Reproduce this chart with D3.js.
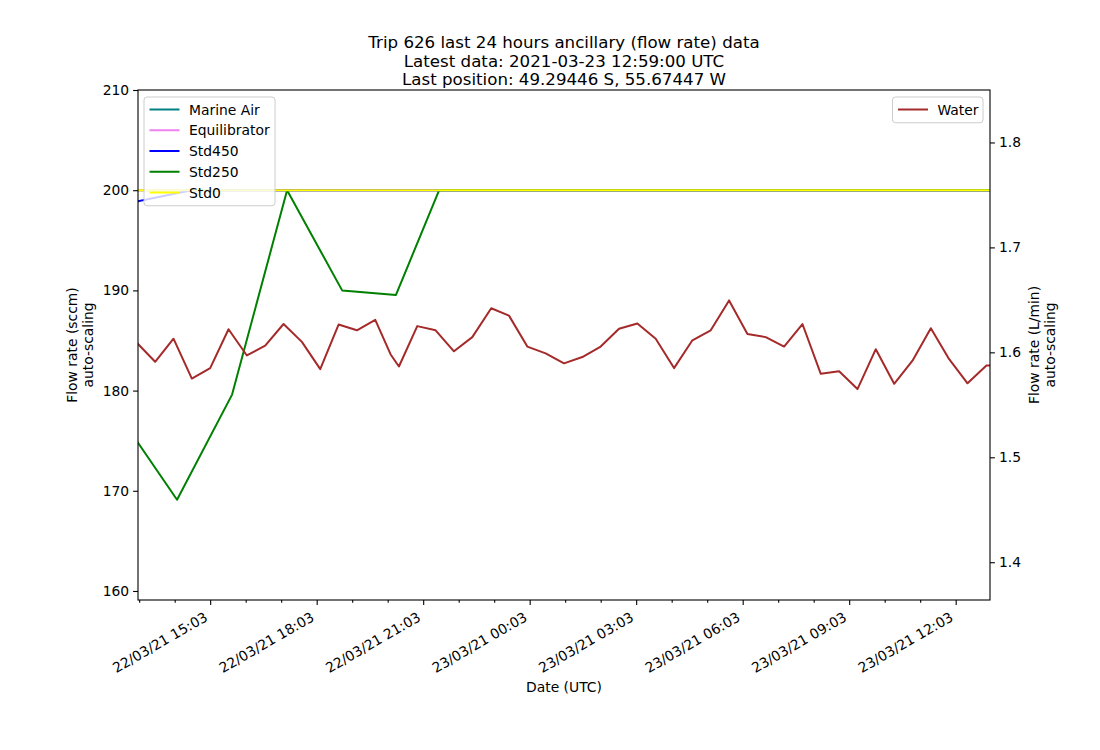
<!DOCTYPE html>
<html>
<head>
<meta charset="utf-8">
<script src="https://cdn.jsdelivr.net/npm/d3@7"></script>
<style>
  body { margin: 0; background: #fff; }
  svg { font-family: "DejaVu Sans", sans-serif; }
</style>
</head>
<body>
<svg id="chart" width="1100" height="750"></svg>
<script>
// ---------- data ----------
const titleLines = [
  "Trip 626 last 24 hours ancillary (flow rate) data",
  "Latest data: 2021-03-23 12:59:00 UTC",
  "Last position: 49.29446 S, 55.67447 W"
];
const xDomain = ["2021-03-22 13:01", "2021-03-23 13:01"];
const firstTick = "2021-03-22 13:03";
const leftTicks = [160, 170, 180, 190, 200, 210];
const rightTicks = [1.4, 1.5, 1.6, 1.7, 1.8];

const marineAirTimes = ["2021-03-22 13:01", "2021-03-22 16:01", "2021-03-22 19:01", "2021-03-22 22:01", "2021-03-23 01:01", "2021-03-23 04:01", "2021-03-23 07:01", "2021-03-23 10:01", "2021-03-23 13:01"];
const marineAirValues = [200, 200, 200, 200, 200, 200, 200, 200, 200];

const equilibratorTimes = ["2021-03-22 13:01", "2021-03-22 16:01", "2021-03-22 19:01", "2021-03-22 22:01", "2021-03-23 01:01", "2021-03-23 04:01", "2021-03-23 07:01", "2021-03-23 10:01", "2021-03-23 13:01"];
const equilibratorValues = [200, 200, 200, 200, 200, 200, 200, 200, 200];

const std450Times = ["2021-03-22 13:01", "2021-03-22 14:31", "2021-03-22 17:13", "2021-03-22 21:30", "2021-03-23 02:09", "2021-03-23 06:48", "2021-03-23 11:27", "2021-03-23 13:01"];
const std450Values = [198.9, 200, 200, 200, 200, 200, 200, 200];

const std250Times = ["2021-03-22 13:01", "2021-03-22 14:07", "2021-03-22 15:40", "2021-03-22 17:13", "2021-03-22 18:46", "2021-03-22 20:17", "2021-03-22 21:30", "2021-03-22 23:03", "2021-03-23 00:36", "2021-03-23 02:09", "2021-03-23 03:42", "2021-03-23 05:15", "2021-03-23 06:48", "2021-03-23 08:21", "2021-03-23 09:54", "2021-03-23 11:27", "2021-03-23 13:00"];
const std250Values = [174.8, 169.1, 179.6, 200, 190.0, 189.55, 200, 200, 200, 200, 200, 200, 200, 200, 200, 200, 200];

const std0Times = ["2021-03-22 13:01", "2021-03-22 17:13", "2021-03-22 21:30", "2021-03-23 02:09", "2021-03-23 06:48", "2021-03-23 11:27", "2021-03-23 13:01"];
const std0Values = [200, 200, 200, 200, 200, 200, 200];

const waterTimes = ["2021-03-22 13:01","2021-03-22 13:30","2021-03-22 14:01","2021-03-22 14:32","2021-03-22 15:03","2021-03-22 15:34","2021-03-22 16:05","2021-03-22 16:36","2021-03-22 17:07","2021-03-22 17:38","2021-03-22 18:09","2021-03-22 18:40","2021-03-22 19:11","2021-03-22 19:42","2021-03-22 20:08","2021-03-22 20:22","2021-03-22 20:53","2021-03-22 21:24","2021-03-22 21:55","2021-03-22 22:26","2021-03-22 22:58","2021-03-22 23:28","2021-03-22 23:59","2021-03-23 00:30","2021-03-23 01:01","2021-03-23 01:32","2021-03-23 02:03","2021-03-23 02:34","2021-03-23 03:05","2021-03-23 03:36","2021-03-23 04:07","2021-03-23 04:38","2021-03-23 05:09","2021-03-23 05:40","2021-03-23 06:11","2021-03-23 06:42","2021-03-23 07:13","2021-03-23 07:44","2021-03-23 08:15","2021-03-23 08:46","2021-03-23 09:17","2021-03-23 09:48","2021-03-23 10:19","2021-03-23 10:50","2021-03-23 11:21","2021-03-23 11:52","2021-03-23 12:23","2021-03-23 12:55","2021-03-23 13:01"];
const waterValues = [1.608,1.591,1.613,1.575,1.585,1.622,1.597,1.6065,1.627,1.610,1.584,1.6265,1.621,1.631,1.598,1.5865,1.625,1.621,1.601,1.6145,1.642,1.635,1.6055,1.599,1.5895,1.5955,1.6055,1.6225,1.6275,1.613,1.585,1.6115,1.621,1.6495,1.6175,1.6145,1.6055,1.627,1.5795,1.582,1.565,1.603,1.570,1.592,1.623,1.5935,1.5705,1.5875,1.5875];

// ---------- layout ----------
const parse = d3.timeParse("%Y-%m-%d %H:%M");
const fmt = d3.timeFormat("%d/%m/%y %H:%M");
const L = 138, R = 990, T = 90, B = 600;
const LW = 2;
const svg = d3.select("#chart");

const x = d3.scaleTime().domain(xDomain.map(parse)).range([L, R]);
const yL = d3.scaleLinear().domain([159.1, 210]).range([B, T]);
const yR = d3.scaleLinear().domain([1.364, 1.850]).range([B, T]);

svg.append("defs").append("clipPath").attr("id", "clip")
  .append("rect").attr("x", L).attr("y", T).attr("width", R - L).attr("height", B - T);

// title
svg.append("g").selectAll("text").data(titleLines).join("text")
  .attr("x", (L + R) / 2).attr("y", (d, i) => 48 + i * 18.5)
  .attr("text-anchor", "middle").attr("font-size", 16.67).attr("fill", "#000")
  .text(d => d);

// series
const leftSeries = [
  { name: "Marine Air", color: "#008080", t: marineAirTimes, v: marineAirValues },
  { name: "Equilibrator", color: "#ee82ee", t: equilibratorTimes, v: equilibratorValues },
  { name: "Std450", color: "#0000ff", t: std450Times, v: std450Values },
  { name: "Std250", color: "#008000", t: std250Times, v: std250Values },
  { name: "Std0", color: "#ffff00", t: std0Times, v: std0Values }
];
const rightSeries = [{ name: "Water", color: "#a52a2a", t: waterTimes, v: waterValues }];

const plot = svg.append("g").attr("clip-path", "url(#clip)");
function drawSeries(s, y) {
  const pts = s.t.map((t, i) => [parse(t), s.v[i]]);
  plot.append("path").datum(pts)
    .attr("fill", "none").attr("stroke", s.color).attr("stroke-width", LW)
    .attr("stroke-linejoin", "round").attr("stroke-linecap", "square")
    .attr("d", d3.line().x(d => x(d[0])).y(d => y(d[1])));
}
leftSeries.forEach(s => drawSeries(s, yL));
rightSeries.forEach(s => drawSeries(s, yR));

// axes
const tickFont = 13.89;
const hourTicks = d3.range(0, 24).map(i => d3.timeHour.offset(parse(firstTick), i));
const majorTicks = hourTicks.filter((d, i) => i % 3 === 2);
const minorTicks = hourTicks.filter((d, i) => i % 3 !== 2);

svg.append("g").attr("transform", `translate(0,${B})`)
  .call(d3.axisBottom(x).tickValues(minorTicks).tickSize(2.8).tickFormat(""))
  .call(g => g.select(".domain").remove());
svg.append("g").attr("transform", `translate(0,${B})`)
  .call(d3.axisBottom(x).tickValues(majorTicks).tickSize(4.9).tickFormat(""))
  .call(g => g.select(".domain").remove());
// rotated tick labels
svg.append("g").selectAll("text").data(majorTicks).join("text")
  .attr("transform", d => `translate(${x(d) - 1.5},${B + 20}) rotate(-30)`)
  .attr("text-anchor", "end")
  .attr("font-size", tickFont).attr("fill", "#000")
  .text(d => fmt(d));

const yLG = svg.append("g").attr("transform", `translate(${L},0)`);
yLG.call(d3.axisLeft(yL).tickValues(leftTicks).tickSize(4.9).tickFormat(d3.format("d")).tickPadding(4))
  .call(g => g.select(".domain").remove());
yLG.selectAll("text").attr("font-size", tickFont).attr("font-family", "DejaVu Sans").attr("fill", "#000");

const yRG = svg.append("g").attr("transform", `translate(${R},0)`);
yRG.call(d3.axisRight(yR).tickValues(rightTicks).tickSize(4.9).tickFormat(d3.format(".1f")).tickPadding(4))
  .call(g => g.select(".domain").remove());
yRG.selectAll("text").attr("font-size", tickFont).attr("font-family", "DejaVu Sans").attr("fill", "#000");

svg.selectAll(".tick line").attr("stroke", "#000").attr("stroke-width", 1.1);

// frame
svg.append("rect").attr("x", L).attr("y", T).attr("width", R - L).attr("height", B - T)
  .attr("fill", "none").attr("stroke", "#000").attr("stroke-width", 1.1);

// axis labels
svg.append("text").attr("x", (L + R) / 2).attr("y", 692).attr("text-anchor", "middle")
  .attr("font-size", tickFont).text("Date (UTC)");
const lblL = svg.append("text").attr("transform", `translate(77,${(T + B) / 2}) rotate(-90)`)
  .attr("text-anchor", "middle").attr("font-size", tickFont);
lblL.append("tspan").attr("x", 0).attr("dy", 0).text("Flow rate (sccm)");
lblL.append("tspan").attr("x", 0).attr("dy", 16).text("auto-scaling");
const lblR = svg.append("text").attr("transform", `translate(1039,${(T + B) / 2}) rotate(-90)`)
  .attr("text-anchor", "middle").attr("font-size", tickFont);
lblR.append("tspan").attr("x", 0).attr("dy", 0).text("Flow rate (L/min)");
lblR.append("tspan").attr("x", 0).attr("dy", 16).text("auto-scaling");

// legends
function legend(series, x0, y0, w) {
  const rowH = 20.75;
  const h = series.length * rowH + 5;
  const g = svg.append("g");
  g.append("rect").attr("x", x0).attr("y", y0).attr("width", w).attr("height", h)
    .attr("rx", 3).attr("fill", "#fff").attr("fill-opacity", 0.8)
    .attr("stroke", "#cccccc").attr("stroke-width", 1);
  series.forEach((s, i) => {
    const cy = y0 + 12.5 + i * rowH;
    g.append("line").attr("x1", x0 + 5.5).attr("x2", x0 + 35.5).attr("y1", cy).attr("y2", cy)
      .attr("stroke", s.color).attr("stroke-width", LW);
    g.append("text").attr("x", x0 + 45).attr("y", cy + 5).attr("font-size", tickFont)
      .attr("fill", "#000").text(s.name);
  });
}
legend(leftSeries, 144, 97, 131);
legend(rightSeries, 892.5, 97, 90.5);
</script>
</body>
</html>
